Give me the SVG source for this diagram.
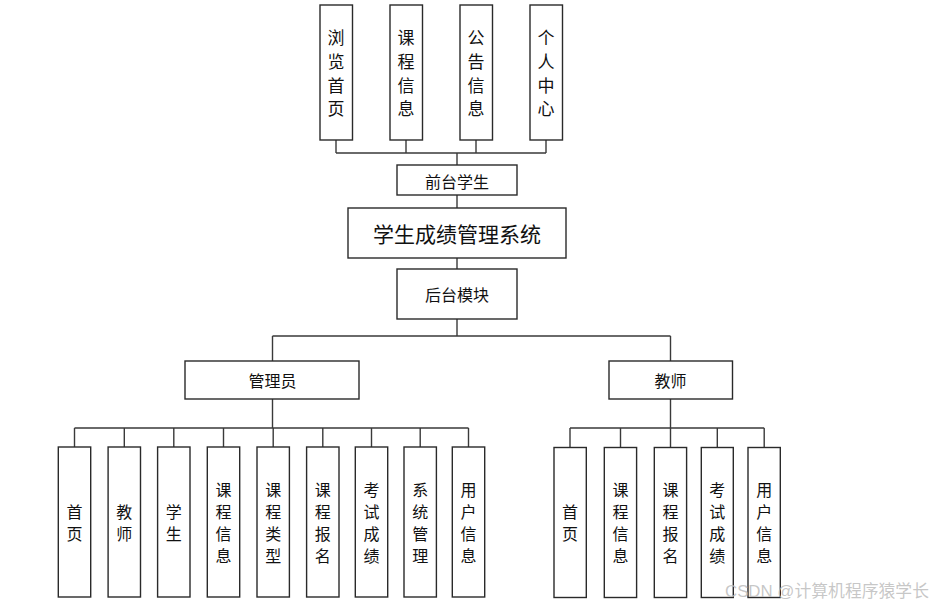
<svg xmlns="http://www.w3.org/2000/svg" width="938" height="608" viewBox="0 0 938 608">
<style>
.box{fill:#fff;stroke:#2a2a2a;stroke-width:1.4}
.t{font-family:"Noto Sans CJK SC","Liberation Sans",sans-serif;fill:#111;text-anchor:middle;dominant-baseline:central}
.v20{font-size:17px}
.v16{font-size:16px}
.ln{fill:none;stroke:#3a3a3a;stroke-width:1.4}
.wm{font-family:"Liberation Sans","Noto Sans CJK SC",sans-serif;font-size:17px;fill:#bdbdbd;fill-opacity:0.85}
</style>
<rect width="938" height="608" fill="#fff"/>
<g id="connectors">
<path class="ln" d="M336,140V153M406,140V153M476,140V153M546,140V153M336,153H546M457,153V165"/>
<path class="ln" d="M457,195V208M457,258V269M457,319V336M272.5,336H670.5M272.5,336V361M670.5,336V361"/>
<path class="ln" d="M272.5,399V428M74.5,428H468.5M74.5,428V447M124.3,428V447M173.8,428V447M223.5,428V447M273.2,428V447M322.8,428V447M371.5,428V447M420.2,428V447M468.5,428V447"/>
<path class="ln" d="M670.5,399V428M570,428H764.2M570,428V447M620.5,428V447M670.5,428V447M717.3,428V447M764.2,428V447"/>
</g>
<g id="n-browse"><rect class="box" x="320" y="5" width="32.5" height="135"/><text class="t v20" x="336" y="36.5">浏<tspan x="336" dy="23.5">览</tspan><tspan x="336" dy="23.5">首</tspan><tspan x="336" dy="23.5">页</tspan></text></g>
<g id="n-course"><rect class="box" x="390" y="5" width="32.5" height="135"/><text class="t v20" x="406" y="36.5">课<tspan x="406" dy="23.5">程</tspan><tspan x="406" dy="23.5">信</tspan><tspan x="406" dy="23.5">息</tspan></text></g>
<g id="n-notice"><rect class="box" x="460" y="5" width="32.5" height="135"/><text class="t v20" x="476" y="36.5">公<tspan x="476" dy="23.5">告</tspan><tspan x="476" dy="23.5">信</tspan><tspan x="476" dy="23.5">息</tspan></text></g>
<g id="n-personal"><rect class="box" x="530" y="5" width="32.5" height="135"/><text class="t v20" x="546" y="36.5">个<tspan x="546" dy="23.5">人</tspan><tspan x="546" dy="23.5">中</tspan><tspan x="546" dy="23.5">心</tspan></text></g>
<g id="n-front"><rect class="box" x="397" y="165" width="120" height="30"/><text class="t v16" x="457" y="180.5">前台学生</text></g>
<g id="n-system"><rect class="box" x="348" y="208" width="218" height="50"/><text class="t" style="font-size:21px" x="457" y="233">学生成绩管理系统</text></g>
<g id="n-back"><rect class="box" x="397" y="269" width="120" height="50"/><text class="t v16" x="457" y="294">后台模块</text></g>
<g id="n-admin"><rect class="box" x="185" y="361" width="174" height="38"/><text class="t v16" x="272.5" y="380">管理员</text></g>
<g id="n-teacher"><rect class="box" x="609" y="361" width="123.5" height="38"/><text class="t v16" x="670.5" y="380">教师</text></g>
<g id="a-home"><rect class="box" x="58.3" y="447" width="32.4" height="150"/><text class="t v16" x="74.5" y="510.5">首<tspan x="74.5" dy="22.5">页</tspan></text></g>
<g id="a-teacher"><rect class="box" x="108.1" y="447" width="32.4" height="150"/><text class="t v16" x="124.3" y="510.5">教<tspan x="124.3" dy="22.5">师</tspan></text></g>
<g id="a-student"><rect class="box" x="157.6" y="447" width="32.4" height="150"/><text class="t v16" x="173.8" y="510.5">学<tspan x="173.8" dy="22.5">生</tspan></text></g>
<g id="a-courseinfo"><rect class="box" x="207.3" y="447" width="32.4" height="150"/><text class="t v16" x="223.5" y="488.5">课<tspan x="223.5" dy="22">程</tspan><tspan x="223.5" dy="22">信</tspan><tspan x="223.5" dy="22">息</tspan></text></g>
<g id="a-coursetype"><rect class="box" x="257" y="447" width="32.4" height="150"/><text class="t v16" x="273.2" y="488.5">课<tspan x="273.2" dy="22">程</tspan><tspan x="273.2" dy="22">类</tspan><tspan x="273.2" dy="22">型</tspan></text></g>
<g id="a-enroll"><rect class="box" x="306.6" y="447" width="32.4" height="150"/><text class="t v16" x="322.8" y="488.5">课<tspan x="322.8" dy="22">程</tspan><tspan x="322.8" dy="22">报</tspan><tspan x="322.8" dy="22">名</tspan></text></g>
<g id="a-score"><rect class="box" x="355.3" y="447" width="32.4" height="150"/><text class="t v16" x="371.5" y="488.5">考<tspan x="371.5" dy="22">试</tspan><tspan x="371.5" dy="22">成</tspan><tspan x="371.5" dy="22">绩</tspan></text></g>
<g id="a-sysmgmt"><rect class="box" x="404" y="447" width="32.4" height="150"/><text class="t v16" x="420.2" y="488.5">系<tspan x="420.2" dy="22">统</tspan><tspan x="420.2" dy="22">管</tspan><tspan x="420.2" dy="22">理</tspan></text></g>
<g id="a-userinfo"><rect class="box" x="452.3" y="447" width="32.4" height="150"/><text class="t v16" x="468.5" y="488.5">用<tspan x="468.5" dy="22">户</tspan><tspan x="468.5" dy="22">信</tspan><tspan x="468.5" dy="22">息</tspan></text></g>
<g id="t-home"><rect class="box" x="554" y="447.5" width="32.3" height="150"/><text class="t v16" x="570" y="510.5">首<tspan x="570" dy="22.5">页</tspan></text></g>
<g id="t-courseinfo"><rect class="box" x="604.3" y="447.5" width="32.3" height="150"/><text class="t v16" x="620.5" y="488.5">课<tspan x="620.5" dy="22">程</tspan><tspan x="620.5" dy="22">信</tspan><tspan x="620.5" dy="22">息</tspan></text></g>
<g id="t-enroll"><rect class="box" x="654.3" y="447.5" width="32.3" height="150"/><text class="t v16" x="670.5" y="488.5">课<tspan x="670.5" dy="22">程</tspan><tspan x="670.5" dy="22">报</tspan><tspan x="670.5" dy="22">名</tspan></text></g>
<g id="t-score"><rect class="box" x="701.3" y="447.5" width="32" height="150"/><text class="t v16" x="717.3" y="488.5">考<tspan x="717.3" dy="22">试</tspan><tspan x="717.3" dy="22">成</tspan><tspan x="717.3" dy="22">绩</tspan></text></g>
<g id="t-userinfo"><rect class="box" x="748" y="447.5" width="32.3" height="150"/><text class="t v16" x="764.2" y="488.5">用<tspan x="764.2" dy="22">户</tspan><tspan x="764.2" dy="22">信</tspan><tspan x="764.2" dy="22">息</tspan></text></g>
<text class="wm" x="725" y="597" textLength="204" lengthAdjust="spacingAndGlyphs">CSDN @计算机程序猿学长</text>
</svg>
